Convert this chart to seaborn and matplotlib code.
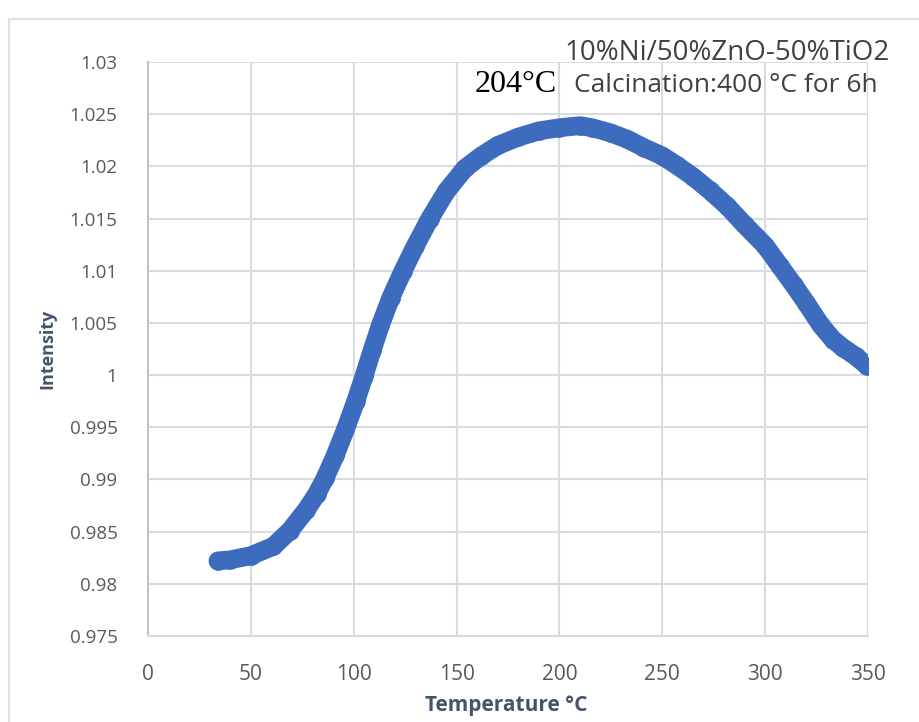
import matplotlib
matplotlib.use("Agg")
import matplotlib.pyplot as plt
from matplotlib import font_manager
from matplotlib.patches import Rectangle
import seaborn as sns
import pandas as pd

# ---- data ----
temperature = [34, 40, 50, 61, 69, 77, 82, 86, 91, 96, 101, 105, 109, 113, 118,
               124, 130, 137, 145, 154, 162, 170, 180, 190, 200, 210, 216, 225,
               233, 241, 250, 257, 265, 273, 281.5, 290, 300, 307, 314, 320, 327,
               333, 338, 344, 349.5]
intensity = [0.9822, 0.9823, 0.9827, 0.9836, 0.9851, 0.9871, 0.9886, 0.9901,
             0.9923, 0.9948, 0.9975, 0.9999, 1.0024, 1.0048, 1.0074, 1.0100,
             1.0124, 1.0150, 1.0176, 1.0198, 1.0210, 1.0220, 1.0228, 1.0234,
             1.0237, 1.0239, 1.0237, 1.0232, 1.0226, 1.0218, 1.0210, 1.0201,
             1.0190, 1.0177, 1.0162, 1.0144, 1.0124, 1.0105, 1.0086, 1.0069,
             1.0048, 1.0034, 1.0026, 1.0018, 1.0009]
x_ticks = [0, 50, 100, 150, 200, 250, 300, 350]
y_ticks = [0.975, 0.98, 0.985, 0.99, 0.995, 1.0, 1.005, 1.01, 1.015, 1.02, 1.025, 1.03]
title_line1 = "10%Ni/50%ZnO-50%TiO2"
title_line2 = "Calcination:400 °C for 6h"
peak_label = "204°C"
x_label = "Temperature °C"
y_label = "Intensity"

df = pd.DataFrame({"T": temperature, "I": intensity})

sns.set_theme(style="white")
installed = {f.name for f in font_manager.fontManager.ttflist}
main_font = "Open Sans" if "Open Sans" in installed else "DejaVu Sans"
narrow_font = "Liberation Sans Narrow" if "Liberation Sans Narrow" in installed else main_font
serif_font = "Liberation Serif" if "Liberation Serif" in installed else "DejaVu Serif"
plt.rcParams["font.family"] = [main_font, "DejaVu Sans"]

fig = plt.figure(figsize=(9.2, 7.22), dpi=100)
fig.patch.set_facecolor("white")
ax = fig.add_axes([148 / 920, 1 - 636 / 722, 720 / 920, 574 / 722])

blue = "#3D6CBF"
sns.lineplot(data=df, x="T", y="I", ax=ax, color=blue, linewidth=13.5,
             marker="o", markersize=13.5, markeredgewidth=0,
             solid_capstyle="round", solid_joinstyle="round", sort=False)

ax.set_xlim(0, 350)
ax.set_ylim(0.975, 1.03)
ax.set_xticks(x_ticks)
ax.set_yticks(y_ticks)
ax.set_xticklabels([f"{v:g}" for v in x_ticks], family=[narrow_font, "DejaVu Sans"],
                   fontsize=15, color="#595959")
ax.set_yticklabels([f"{v:g}" for v in y_ticks], family=[main_font, "DejaVu Sans"],
                   fontsize=13.5, color="#595959")
ax.tick_params(axis="x", length=0, pad=20)
ax.tick_params(axis="y", length=0, pad=22)
ax.grid(True, color="#D9DBE1", linewidth=1.5)
ax.set_axisbelow(True)
for s in ["top", "right"]:
    ax.spines[s].set_visible(False)
ax.spines["left"].set_color("#BFC3CC")
ax.spines["left"].set_linewidth(1.5)
ax.spines["bottom"].set_color("#D9DBE1")
ax.spines["bottom"].set_linewidth(1.5)

ax.set_xlabel(x_label, fontsize=15, fontweight="bold", color="#44546A")
ax.set_ylabel(y_label, fontsize=13, fontweight="bold", color="#44546A")
ax.xaxis.label.set_va("center")
ax.yaxis.label.set_va("center")
ax.xaxis.set_label_coords((506 - 148) / 720, -(705 - 636) / 574)
ax.yaxis.set_label_coords(-(148 - 47) / 720, (636 - 349) / 574)

fig.text(890 / 920, 1 - 60 / 722, title_line1, ha="right", va="baseline",
         fontsize=20, color="#404040")
fig.text(878 / 920, 1 - 92 / 722, title_line2, ha="right", va="baseline",
         fontsize=19, color="#404040")
fig.text(557 / 920, 1 - 92 / 722, peak_label, ha="right", va="baseline",
         fontsize=23, color="black", family=[serif_font, "DejaVu Serif"])

fig.patches.append(Rectangle((9 / 920, -0.1), 1.2, 1 - 19 / 722 + 0.1,
                             transform=fig.transFigure, fill=False,
                             edgecolor="#DDE0E6", linewidth=1.5))

fig.savefig("out.png", dpi=100, facecolor="white")
